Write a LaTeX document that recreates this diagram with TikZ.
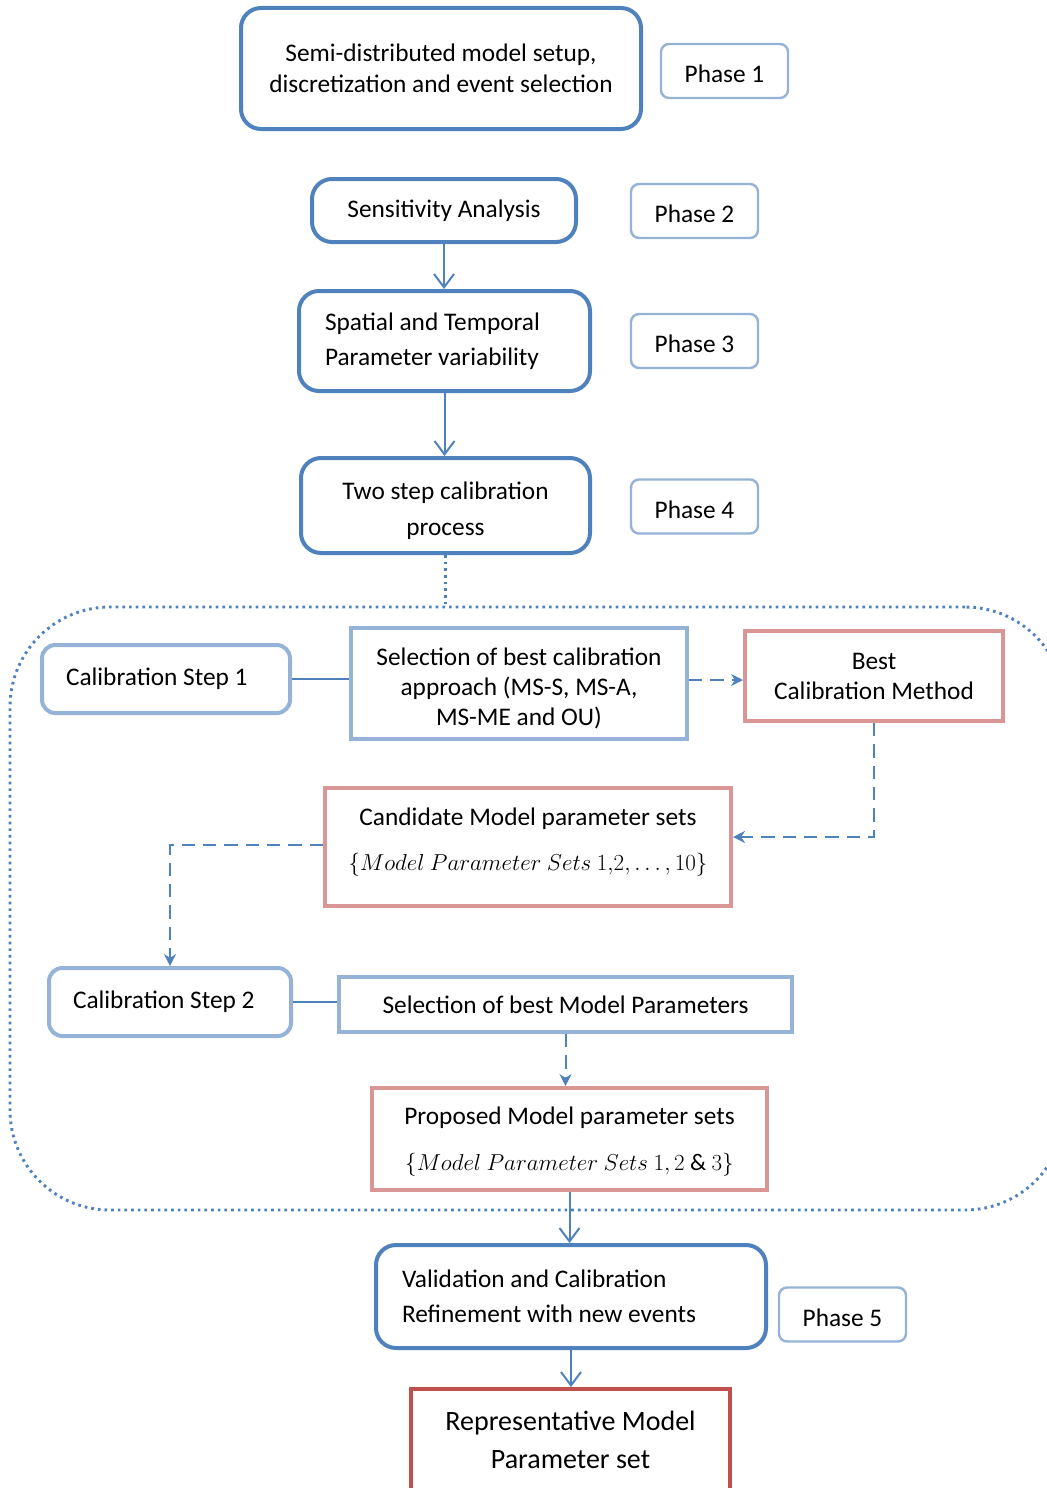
\documentclass[tikz,border=0pt]{standalone}
\usepackage{fontspec}
\setmainfont{Carlito}
\usetikzlibrary{arrows.meta}
\definecolor{mainblue}{HTML}{4F81BD}
\definecolor{lightblue}{HTML}{95B3D7}
\definecolor{rosered}{HTML}{D99694}
\definecolor{darkred}{HTML}{C0504D}
\newcommand{\setfont}{\fontsize{17.8}{34}\selectfont}
\tikzset{
  basefont/.style={font=\fontsize{19}{26}\selectfont},
  phasebox/.style={draw=lightblue, line width=1.8pt, rounded corners=6pt, fill=white,
    basefont, minimum width=95.25pt, minimum height=40.5pt, inner sep=0pt,
    text height=17.8pt, text depth=0pt},
  mainbox/.style={draw=mainblue, line width=3pt, rounded corners=15pt, fill=white,
    basefont, align=center, inner sep=0pt},
  stepbox/.style={draw=lightblue, line width=3pt, rounded corners=10pt, fill=white,
    basefont, align=flush left, inner xsep=18pt, inner ysep=0pt, minimum height=51pt},
  selbox/.style={draw=lightblue, line width=3pt, fill=white,
    basefont, align=center, inner sep=0pt},
  resbox/.style={draw=rosered, line width=3pt, fill=white,
    basefont, align=center, inner sep=0pt},
  finalbox/.style={draw=darkred, line width=3pt, fill=white,
    font=\fontsize{21}{29}\selectfont, align=center, inner sep=0pt},
  groupbox/.style={draw=mainblue, line width=2.2pt, dash pattern=on 2pt off 3pt,
    rounded corners=75pt, inner sep=0pt},
  flow/.style={draw=mainblue, line width=1.5pt,
    -{Straight Barb[length=10pt,width=15pt,line width=1.5pt]}},
  plainlink/.style={draw=mainblue, line width=1.5pt},
  dashflow/.style={draw=mainblue, line width=1.5pt, dash pattern=on 10pt off 6pt,
    -{Stealth[length=9pt,width=9pt]}},
  dotlink/.style={draw=mainblue, line width=2.2pt, dash pattern=on 2pt off 3pt},
}
\begin{document}
\begin{tikzpicture}[x=0.75pt, y=-0.75pt]
\useasboundingbox (0,0) rectangle (1046,1488);

% calibration group frame (open to the right edge)
\node[groupbox, minimum width=791.25pt, minimum height=452.25pt] (grp) at (537.5,908.5) {};

% main flow
\node[mainbox, minimum width=300pt, minimum height=90.75pt, font=\fontsize{19}{23}\selectfont]
  (setup) at (441,68.5) {Semi-distributed model setup,\\discretization and event selection};
\node[phasebox] (ph1) at (724.5,71) {Phase 1};

\node[mainbox, minimum width=198pt, minimum height=47.25pt] (sens) at (444,210.5) {Sensitivity Analysis};
\node[phasebox] (ph2) at (694.5,211) {Phase 2};

\node[mainbox, text width=179.25pt, inner xsep=19.5pt, minimum height=75pt, align=flush left]
  (spat) at (444.5,341) {Spatial and Temporal\\Parameter variability};
\node[phasebox] (ph3) at (694.5,341) {Phase 3};

\node[mainbox, minimum width=216.75pt, minimum height=71.25pt, font=\fontsize{19}{27}\selectfont]
  (twostep) at (445.5,505.5) {\mbox{}\\[-6.2pt]Two step calibration\\process};
\node[phasebox] (ph4) at (694.5,506.5) {Phase 4};

% calibration step 1
\node[stepbox, text width=150pt] (cs1) at (166,679) {Calibration Step 1};
\node[selbox, minimum width=252pt, minimum height=83.25pt, font=\fontsize{19}{22.5}\selectfont]
  (sel1) at (519,683.5) {\mbox{}\\[-1.7pt]Selection of best calibration\\approach (MS-S, MS-A,\\MS-ME and OU)};
\node[resbox, minimum width=193.5pt, minimum height=67.5pt, font=\fontsize{19}{22.5}\selectfont]
  (best) at (874,676) {Best\\Calibration Method};
\node[resbox, minimum width=304.5pt, minimum height=88.5pt, font=\fontsize{19}{34}\selectfont]
  (cand) at (528,847) {Candidate Model parameter sets\\{\setfont$\{Model\ Parameter\ Sets\ 1{,}2,\ldots,10\}$}\\[-22pt]\mbox{}};

% calibration step 2
\node[stepbox, text width=145.5pt] (cs2) at (170,1002) {Calibration Step 2};
\node[selbox, minimum width=339.75pt, minimum height=41.25pt] (sel2) at (565.5,1004.5) {Selection of best Model Parameters};
\node[resbox, minimum width=296.25pt, minimum height=76.5pt, font=\fontsize{19}{34}\selectfont]
  (prop) at (569.5,1139) {\mbox{}\\[-16.9pt]Proposed Model parameter sets\\{\setfont$\{Model\ Parameter\ Sets\ 1, 2\ \&\ 3\}$}};

% validation and result
\node[mainbox, text width=253.5pt, inner xsep=19.5pt, minimum height=77.25pt, align=flush left]
  (valid) at (571,1296.5) {Validation and Calibration\\Refinement with new events};
\node[phasebox] (ph5) at (842.5,1314.5) {Phase 5};
\node[finalbox, minimum width=239.25pt, minimum height=76.5pt] (final) at (570.5,1440) {Representative Model\\Parameter set};

% connectors
\draw[flow] (sens.south) -- (sens.south |- spat.north);
\draw[flow] (spat.south) -- (spat.south |- twostep.north);
\draw[dotlink] (twostep.south) -- (twostep.south |- grp.north);
\draw[plainlink] (cs1.east) -- (cs1.east -| sel1.west);
\draw[dashflow] ([yshift=-3pt]best.west -| sel1.east) -- ([yshift=-3pt]best.west);
\draw[dashflow] (best.south) |- ([yshift=7.5pt]cand.east);
\draw[dashflow] ([yshift=1.5pt]cand.west) -| (cs2.north);
\draw[plainlink] (cs2.east) -- (cs2.east -| sel2.west);
\draw[dashflow] (sel2.south) -- (sel2.south |- prop.north);
\draw[flow] (prop.south) -- (prop.south |- valid.north);
\draw[flow] (valid.south) -- (valid.south |- final.north);
\end{tikzpicture}
\end{document}
